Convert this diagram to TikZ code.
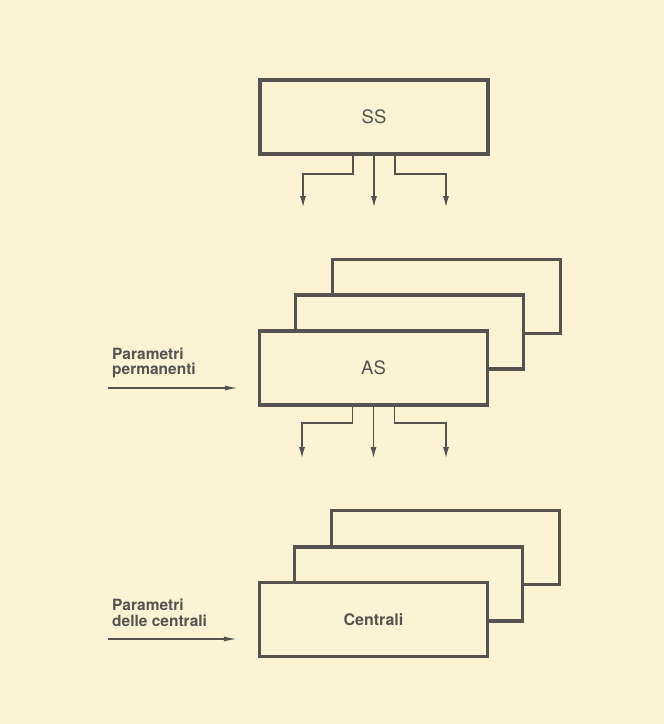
\documentclass[tikz,border=0pt]{standalone}
\usepackage{fontspec}
\setmainfont{TeX Gyre Heros}
\usetikzlibrary{arrows.meta}
\definecolor{paper}{HTML}{FBF3D3}
\definecolor{ink}{HTML}{555250}
\tikzset{
  blk/.style={draw=ink, line width=3.3pt, fill=paper, minimum width=228pt,
              minimum height=74pt, inner sep=0pt, text=ink, font=\fontsize{18.5}{22}\selectfont},
  conn/.style={draw=ink, line width=1.8pt, -{Latex[length=12pt,width=6pt]}},
  feed/.style={draw=ink, line width=1.4pt, -{Latex[length=13pt,width=5pt]}},
  lbl/.style={text=ink, align=left, anchor=west, inner sep=0pt,
              font=\bfseries\fontsize{15.5}{15.5}\selectfont}
}
\begin{document}
\begin{tikzpicture}[x=1pt,y=-1pt]
\useasboundingbox (0,0) rectangle (664,724);
\fill[paper] (0,0) rectangle (664,724);

% top block with its three outputs
\node[blk] (ss) at (374,117) {SS};
\coordinate (ssL) at (303,208);
\coordinate (ssM) at (374,208);
\coordinate (ssR) at (446,208);
\draw[conn] ([xshift=-21pt]ss.south) |- (ssL |- 0,174) -- (ssL);
\draw[conn] (ss.south) -- (ssM);
\draw[conn] ([xshift=21pt]ss.south) |- (ssR |- 0,174) -- (ssR);

% stacked AS blocks
\node[blk] (as3) at (446.5,296.5) {};
\node[blk] (as2) at (409.5,332) {};
\node[blk] (as) at (373.5,368) {AS};
\coordinate (asL) at (302,459);
\coordinate (asM) at (373.5,459);
\coordinate (asR) at (446,459);
\draw[conn] ([xshift=-21pt]as.south) |- (asL |- 0,423) -- (asL);
\draw[conn] (as.south) -- (asM);
\draw[conn] ([xshift=21pt]as.south) |- (asR |- 0,423) -- (asR);

\node[lbl] (pp) at (112,363) {Parametri\\permanenti};
\coordinate (ppS) at (108,388);
\draw[feed] (ppS) -- ([xshift=-20pt]ppS -| as.west);

% stacked power-plant blocks
\node[blk] (c3) at (445.5,547.5) {};
\node[blk] (c2) at (408.5,584) {};
\node[blk] (cen) at (373.5,619.5) {\bfseries\fontsize{16}{19}\selectfont Centrali};

\node[lbl] (pc) at (112,613) {Parametri\\delle centrali};
\coordinate (pcS) at (108,639);
\draw[feed] (pcS) -- ([xshift=-21pt]pcS -| cen.west);
\end{tikzpicture}
\end{document}
